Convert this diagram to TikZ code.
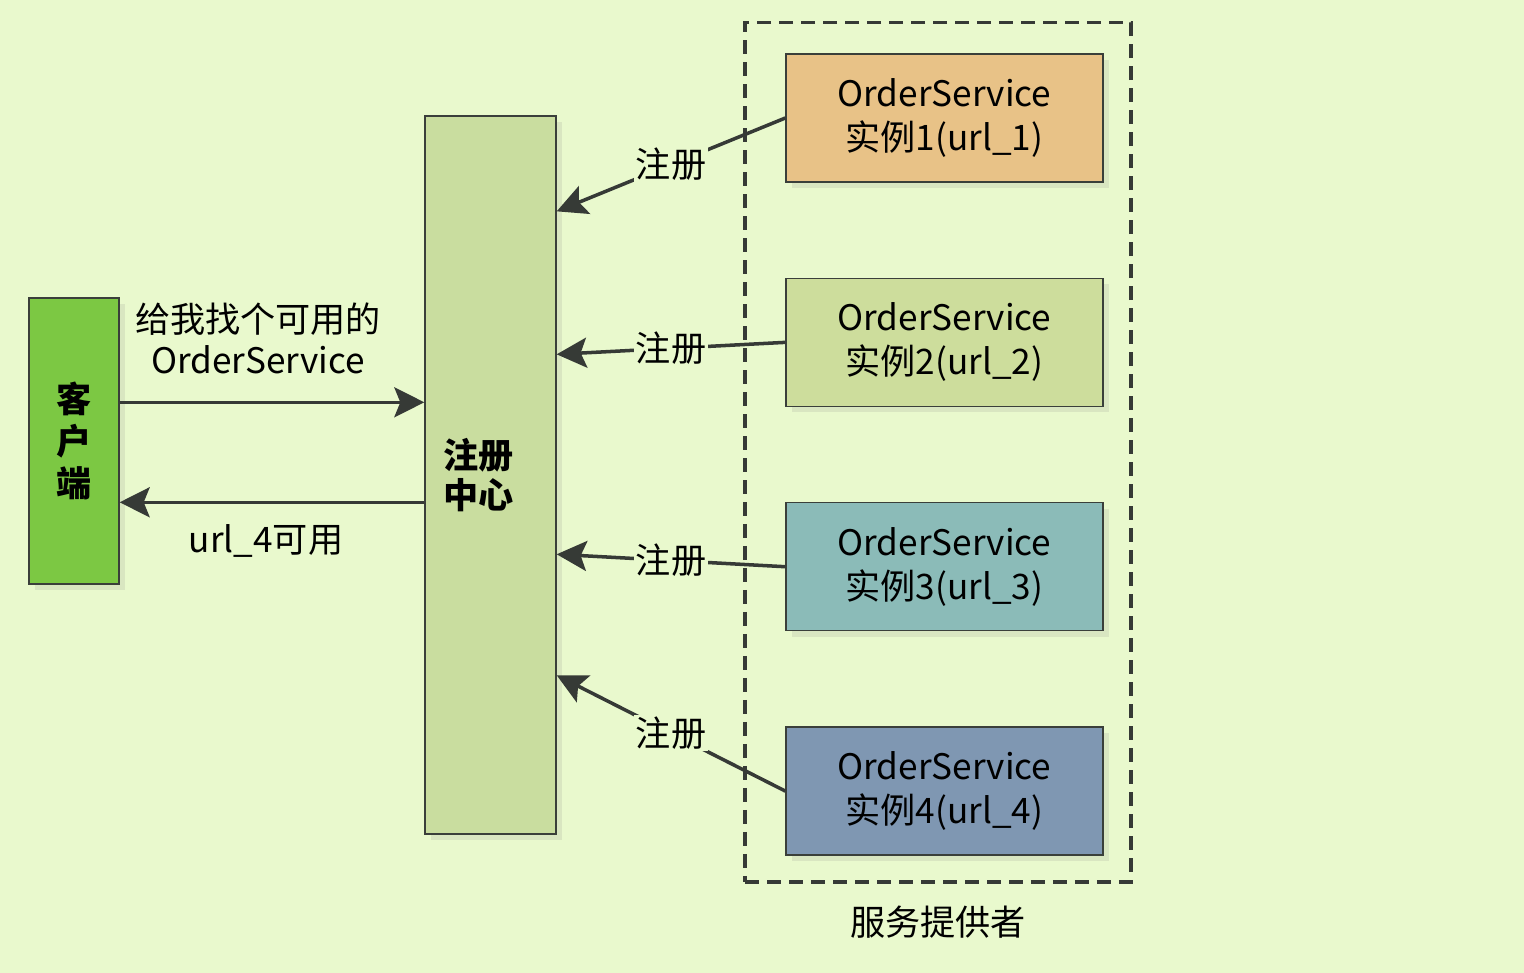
\documentclass[tikz,border=0pt]{standalone}
\usepackage{fontspec}
\setmainfont{Noto Sans CJK SC}
\usepackage{xcolor}
\usepackage{tikz}
\usetikzlibrary{arrows.meta, positioning, shadows}
\definecolor{bgc}{HTML}{E9F9CD}
\definecolor{edge}{HTML}{3A3F3A}
\definecolor{arrc}{HTML}{363A36}
\definecolor{clic}{HTML}{7CC843}
\definecolor{regc}{HTML}{C9DD9F}
\definecolor{sa}{HTML}{E8C287}
\definecolor{sb}{HTML}{CDDD9C}
\definecolor{sc}{HTML}{8BBBB8}
\definecolor{sd}{HTML}{7F97B2}
\newcommand{\dfont}{\fontsize{20}{24}\selectfont}

\begin{document}
\begin{tikzpicture}[x=0.02cm, y=-0.02cm, node distance=1.9cm]
    \tikzstyle{shd}=[drop shadow={opacity=0.15, shadow xshift=0.12cm, shadow yshift=-0.12cm}]
    \tikzstyle{sbox}=[rectangle, minimum width=6.34cm, minimum height=2.56cm, align=center,
                      font=\fontsize{20}{25}\selectfont, draw=edge, line width=0.8pt, shd]
    \tikzstyle{cbox}=[rectangle, minimum width=1.8cm, minimum height=5.72cm, align=center,
                      font=\dfont\bfseries, fill=clic, draw=edge, line width=0.8pt, shd]
    \tikzstyle{rbox}=[rectangle, minimum width=2.62cm, minimum height=14.36cm, text width=1.9cm,
                      align=left, font=\fontsize{20}{23}\selectfont\bfseries, fill=regc,
                      draw=edge, line width=0.8pt, shd]
    \tikzstyle{pbox}=[rectangle, minimum width=7.72cm, minimum height=17.2cm, draw=arrc,
                      line width=1.8pt, dash pattern=on 0.28cm off 0.16cm]
    \tikzstyle{lbl}=[font=\dfont, fill=bgc, inner sep=1pt]
    \tikzstyle{arr}=[-{Stealth[length=0.6cm, width=0.6cm, inset=0.12cm]}, draw=arrc, line width=2pt]

    \fill[bgc] (0,0) rectangle (1524,973);

    \node[cbox] (cli) at (74,441) {客\\户\\端};
    \node[rbox] (reg) at (490.5,475) {注册\\中心};

    \node[pbox] (prov) at (938,452) {};
    \node[lbl, below=0.4cm of prov] (provl) {服务提供者};

    \node[sbox, fill=sa] (s1) at (944.5,118) {OrderService\\实例1(url\_1)};
    \node[sbox, fill=sb, below=of s1] (s2) {OrderService\\实例2(url\_2)};
    \node[sbox, fill=sc, below=of s2] (s3) {OrderService\\实例3(url\_3)};
    \node[sbox, fill=sd, below=of s3] (s4) {OrderService\\实例4(url\_4)};

    \coordinate (ask) at ([yshift=-2.1cm]cli.north east);
    \coordinate (ans) at ([yshift=-4.1cm]cli.north east);

    \draw[arr] (ask) -- node[lbl, above=0.5cm, xshift=-0.28cm, align=center,
        font=\fontsize{20}{23}\selectfont] {给我找个可用的\\OrderService} (ask -| reg.west);
    \draw[arr] (ans -| reg.west) -- node[lbl, below=0.38cm, xshift=-0.12cm] {url\_4可用} (ans);

    \draw[arr] (s1.west) -- node[lbl] {注册} ([yshift=-1.92cm]reg.north east);
    \draw[arr] (s2.west) -- node[lbl] {注册} ([yshift=-4.78cm]reg.north east);
    \draw[arr] (s3.west) -- node[lbl] {注册} ([yshift=-8.78cm]reg.north east);
    \draw[arr] (s4.west) -- node[lbl] {注册} ([yshift=-11.2cm]reg.north east);
\end{tikzpicture}
\end{document}
